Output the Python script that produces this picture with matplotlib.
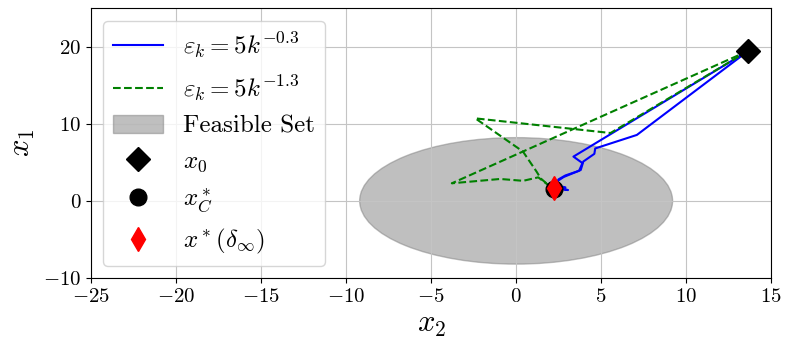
import matplotlib
matplotlib.use('Agg')
import matplotlib.pyplot as plt
from matplotlib.patches import Ellipse
import numpy as np

plt.rcParams['mathtext.fontset'] = 'cm'
plt.rcParams['font.family'] = 'serif'
plt.rcParams['font.serif'] = ['cmr10']
plt.rcParams['axes.formatter.use_mathtext'] = True

# starting point and solutions
x0 = (13.65, 19.45)
x_c = (2.22, 1.60)
x_delta = (2.24, 1.62)

# feasible set (ellipse centred at origin)
ell_center = (0.0, 0.0)
ell_width = 18.4
ell_height = 16.4

# eps_k = 5 k^-0.3 (two runs)
blue_a_x2 = [13.65, 7.10, 4.65, 4.60, 3.95, 3.80, 2.80, 2.45, 2.25, 3.05, 2.40]
blue_a_x1 = [19.45, 8.55, 6.80, 6.10, 5.10, 4.00, 3.10, 2.60, 1.80, 1.40, 1.65]
blue_b_x2 = [13.65, 3.37, 3.90, 3.70, 2.90, 2.50, 2.30, 2.90, 2.25]
blue_b_x1 = [19.45, 5.74, 4.90, 3.90, 3.30, 2.80, 2.05, 1.75, 1.50]

# eps_k = 5 k^-1.3 (two runs)
green_a_x2 = [13.65, 5.55, -2.40, 0.40, 1.20, 1.45, 1.90, 2.20]
green_a_x1 = [19.45, 8.80, 10.70, 6.40, 3.80, 2.90, 2.05, 1.70]
green_b_x2 = [13.65, -3.78, -0.94, 0.41, 1.30, 1.80, 2.20]
green_b_x1 = [19.45, 2.28, 2.84, 2.60, 3.05, 2.20, 1.70]

fig = plt.figure(figsize=(7.91, 3.51), dpi=100)
ax = fig.add_axes([0.115, 0.208, 0.86, 0.769])

ax.add_patch(Ellipse(ell_center, ell_width, ell_height, color='gray', alpha=0.5,
                     label='Feasible Set'))

ax.plot(blue_a_x2, blue_a_x1, 'b-', linewidth=1.5, label=r'$\varepsilon_k = 5k^{-0.3}$')
ax.plot(blue_b_x2, blue_b_x1, 'b-', linewidth=1.5)
ax.plot(green_a_x2, green_a_x1, 'g--', linewidth=1.5, label=r'$\varepsilon_k = 5k^{-1.3}$')
ax.plot(green_b_x2, green_b_x1, 'g--', linewidth=1.5)

ax.plot(x0[0], x0[1], 'kD', markersize=12, linestyle='none', label=r'$x_0$')
ax.plot(x_c[0], x_c[1], 'ko', markersize=12, linestyle='none', label=r'$x_C^*$')
ax.plot(x_delta[0], x_delta[1], 'rd', markersize=12, linestyle='none',
        label=r'$x^*(\delta_\infty)$')

ax.set_xlim(-25, 15)
ax.set_ylim(-10, 25)
ax.set_xticks(np.arange(-25, 16, 5))
ax.set_yticks([-10, 0, 10, 20])
ax.tick_params(labelsize=15)
ax.grid(True, color='#c4c4c4')
ax.set_xlabel(r'$x_2$', fontsize=22)
ax.set_ylabel(r'$x_1$', fontsize=22)

handles, labels = ax.get_legend_handles_labels()
order = [1, 2, 0, 3, 4, 5]
ax.legend([handles[i] for i in order], [labels[i] for i in order],
          loc='upper left', fontsize=18, labelspacing=0.5)

fig.savefig('out.png', dpi=100)
